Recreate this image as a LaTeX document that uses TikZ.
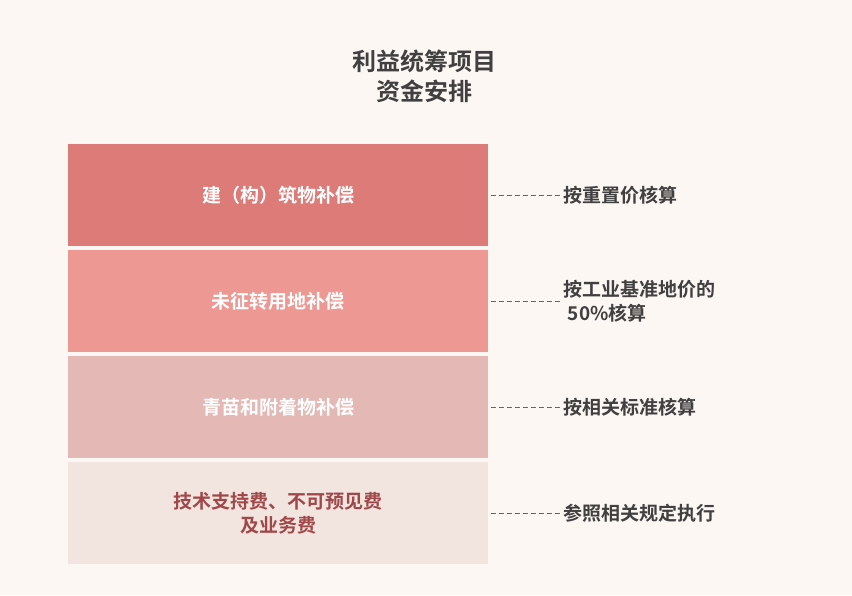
\documentclass[tikz,border=0pt]{standalone}
\usepackage{fontspec}
\setmainfont{Noto Sans CJK SC}[BoldFont={Noto Sans CJK SC Bold}]
\definecolor{bg}{HTML}{FDF7F4}
\definecolor{c1}{HTML}{DC7B78}
\definecolor{c2}{HTML}{EE9893}
\definecolor{c3}{HTML}{E3B8B5}
\definecolor{c4}{HTML}{F2E4DE}
\definecolor{tx}{HTML}{404040}
\definecolor{red4}{HTML}{A0474A}
\begin{document}
\begin{tikzpicture}[x=1pt,y=-1pt,
  band/.style={minimum width=420pt,minimum height=102pt,inner sep=0pt,font=\fontsize{19}{24}\selectfont\bfseries,align=center,text=white},
  lab/.style={anchor=west,font=\fontsize{19}{24}\selectfont\bfseries,text=tx,align=left},
  dl/.style={draw=tx!80,dashed,dash pattern=on 5pt off 3pt,line width=0.8pt}]
\fill[bg] (0,0) rectangle (852,595);
\node[font=\fontsize{24}{30}\selectfont\bfseries,text=tx,align=center] (title) at (424,76) {利益统筹项目\\资金安排};
\node[band,fill=c1] (b1) at (278,195) {建（构）筑物补偿};
\node[band,fill=c2] (b2) at (278,301) {未征转用地补偿};
\node[band,fill=c3] (b3) at (278,407) {青苗和附着物补偿};
\node[band,fill=c4,text=red4] (b4) at (278,513) {技术支持费、不可预见费\\及业务费};
\node[lab] (l1) at (560,195) {按重置价核算};
\node[lab] (l2) at (560,301) {按工业基准地价的\\\ 50\%核算};
\node[lab] (l3) at (560,407) {按相关标准核算};
\node[lab] (l4) at (560,513) {参照相关规定执行};
\draw[dl] (b1.east)++(3,0) -- (l1.west);
\draw[dl] (b2.east)++(3,0) -- (l2.west);
\draw[dl] (b3.east)++(3,0) -- (l3.west);
\draw[dl] (b4.east)++(3,0) -- (l4.west);
\end{tikzpicture}
\end{document}
